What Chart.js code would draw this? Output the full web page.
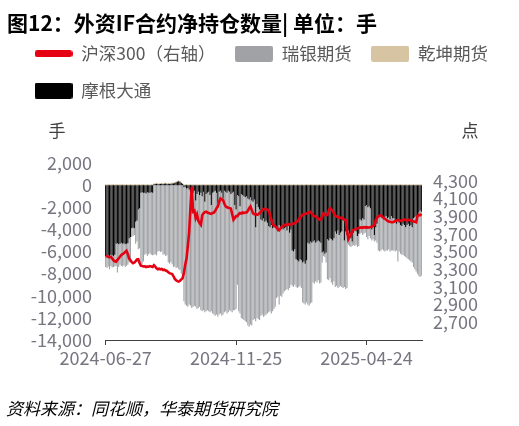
<!DOCTYPE html>
<html><head><meta charset="utf-8">
<script src="https://cdn.jsdelivr.net/npm/chart.js@4.4.1/dist/chart.umd.min.js"></script>
<style>
html,body{margin:0;padding:0;background:#fff;}
#wrap{position:relative;width:519px;height:426px;overflow:hidden;}
#c{position:absolute;left:0;top:0;}
.title{position:absolute;left:7px;top:10px;font:bold 21px/24px 'Noto Sans CJK SC',sans-serif;color:#000;white-space:nowrap;}
.src{position:absolute;left:6px;top:398px;font:italic 17px/20px 'Noto Sans CJK SC',sans-serif;color:#000;white-space:nowrap;}
</style></head>
<body><div id="wrap"><canvas id="c" width="519" height="426"></canvas>
<div class="title">图12：外资IF合约净持仓数量| 单位：手</div>
<div class="src">资料来源：同花顺，华泰期货研究院</div></div>
<script>
// ---- categories: trading days 2024-06-27 .. 2025-06-27 ----
const firstDay = '2024-06-27';
const lastDay = '2025-06-27';
const holidays = ['2024-09-16','2024-09-17','2024-10-01','2024-10-02','2024-10-03','2024-10-04','2024-10-07',
  '2025-01-01','2025-01-28','2025-01-29','2025-01-30','2025-01-31','2025-02-03','2025-02-04','2025-04-04',
  '2025-05-01','2025-05-02','2025-05-05','2025-06-02'];
const categories = [];
(function(){
  let t = Date.parse(firstDay + 'T00:00:00Z'); const end = Date.parse(lastDay + 'T00:00:00Z');
  while (t <= end) { const d = new Date(t); const w = d.getUTCDay(); const s = d.toISOString().slice(0,10);
    if (w !== 0 && w !== 6 && !holidays.includes(s)) categories.push(s); t += 86400000; }
})();
const xTickLabels = ['2024-06-27','2024-11-25','2025-04-24'];
const leftTicks = [-14000,-12000,-10000,-8000,-6000,-4000,-2000,0,2000];
const rightTicks = [2700,2900,3100,3300,3500,3700,3900,4100,4300];

// ---- series ----
const hs300 = [
3450,3445,3440,3435,3440,3420,3400,3390,3385,3405,
3423,3440,3460,3470,3480,3495,3509,3470,3420,3400,
3380,3367,3375,3390,3410,3412,3370,3340,3335,3330,
3332,3325,3330,3328,3335,3330,3325,3345,3330,3310,
3300,3305,3298,3302,3290,3295,3285,3280,3265,3255,
3250,3245,3220,3190,3175,3165,3160,3170,3185,3200,
3260,3350,3420,3560,3720,4000,4232,3950,3960,3880,
3920,3850,3820,3800,3910,3930,3945,3950,3940,3935,
3930,3925,3935,3940,3960,3990,4010,4060,4100,4090,
4080,4040,4010,4000,3995,3990,3985,3920,3860,3880,
3900,3900,3920,3935,3930,3940,3935,3940,3940,3960,
3990,4010,3970,3930,3920,3925,3915,3920,3935,3950,
3965,3980,3985,3975,3975,3960,3910,3860,3820,3790,
3785,3770,3750,3740,3760,3780,3790,3795,3805,3800,
3810,3805,3800,3815,3815,3820,3830,3840,3860,3880,
3900,3915,3920,3925,3930,3935,3945,3950,3930,3905,
3900,3895,3890,3865,3860,3860,3895,3930,3920,3910,
3915,3960,3990,3975,3960,3930,3905,3895,3890,3885,
3880,3885,3870,3860,3855,3750,3640,3670,3690,3730,
3745,3750,3755,3760,3765,3770,3772,3768,3775,3770,
3775,3770,3772,3778,3780,3790,3800,3850,3880,3895,
3905,3910,3895,3880,3870,3860,3845,3840,3835,3830,
3830,3835,3845,3850,3855,3850,3845,3850,3855,3860,
3855,3850,3860,3855,3850,3845,3840,3835,3830,3900,
3915,3910,3925];

const ubs = [
-1000,-1050,-1000,-1200,-1000,-1100,-1000,-1050,-2000,-2650,-2050,-1900,-2100,-2050,-2000,-2050,-2000,-1950,
-2200,-2200,-800,-750,-600,-2000,-1900,-3600,-3600,-6500,-6450,-6200,-5600,-5450,-5750,-5550,-5450,-5650,-5650,
-6300,-6250,-6350,-6000,-5950,-6050,-6000,-6300,-6250,-6400,-6350,-7000,-7100,-6950,-7150,-7400,-7350,-7500,-7450,-7600,-7700,-8000,-8300,
-10300,-10650,-10600,-10750,-10400,-10300,-10200,-10300,-10400,-9600,-10400,-10500,-10100,
-10600,-10400,-10700,-10000,-10600,-10600,-10800,-10600,-9600,-10900,
-11100,-11300,-11000,-10300,-11100,-11100,-11100,-10500,-11000,-10800,-10900,-11000,-10700,-10600,-10800,-10700,
-9500,-9000,-8100,-10400,-9700,-11200,-11200,-11200,-11200,-11400,-11500,-11500,-11500,-11300,-10700,-10800,-8500,-10300,-10100,-10000,
-8700,-8500,-8900,-8500,-8500,-8200,-7800,-7600,-8000,-7500,-7500,-7200,-6400,-5900,-7200,-6100,-6400,-5800,-5700,-5700,-5300,-5800,-5000,-5000,
-3200,-3200,-3200,-2500,-2500,-2300,-2400,-2500,-3600,-3800,-3700,-3800,-5600,-5600,-5600,-5400,-3700,-3900,-3500,-3700,-3600,-3800,-3600,-900,-400,-300,-900,
-3600,-3600,-3600,-3900,-4000,-3900,-5000,-4700,-5200,-4700,-4800,-5000,-6100,-4200,-5200,-4800,-1300,-1100,-800,-400,-1100,-1500,-1200,-1000,-1100,-1300,-1100,-1500,-1300,
-2400,-2900,-2900,-2700,-2700,-1000,-1300,-600,-1200,-1700,-3100,-3100,-3200,-2800,-2800,-3100,-3100,-2900,-2900,-2900,-3100,-2900,-2900,-2700,-2400,-3700,-2600,-2600,-2600,-2800,-2800,-2700,-3000,-3200,-3100,-3300,-3200,-4400,-4700,-5000,-5000,-5700,-6000,-5800];

const qiankun = [
90,85,95,90,88,92,90,86,94,90, 88,92,90,95,85,90,92,88,90,94,
90,88,86,92,90,95,90,88,92,90, 86,90,94,90,88,92,85,90,95,90,
92,88,90,86,94,90,88,92,90,95, 90,85,90,92,88,90,94,90,86,92,
90,88,95,90,92,86,90,94,88,90, 92,90,85,90,95,88,90,92,90,86,
94,90,88,92,90,95,90,85,92,88, 90,94,90,86,92,90,88,95,90,92,
86,90,94,88,90,92,90,85,95,90, 88,92,90,94,86,90,92,88,90,95,
90,86,92,90,88,94,90,92,85,90, 95,90,88,92,90,86,94,90,92,88,
90,95,86,90,92,88,90,94,90,85, 92,90,88,95,90,92,86,90,94,88,
90,92,85,90,95,88,92,90,86,94, 90,88,92,90,95,85,90,92,88,90,
94,90,86,92,90,88,95,90,92,86, 90,94,88,90,92,90,85,95,90,88,
92,90,94,86,90,92,88,90,95,90, 86,92,90,88,94,90,92,85,90,95,
90,88,92,90,86,94,90,92,88,90, 95,90,86,92,90,88,94,90,92,85,
90,95,88];

const jpm = [
-6400,-6450,-6350,-6400,-6300,-6350,-6400,-6300,-5300,-5250,-5350,-5300,-5200,-5300,-5250,-5350,-5300,-5250,
-4800,-4700,-3900,-3850,-3900,-3300,-3200,-2200,-2100,-700,-650,-700,-700,-750,-650,-700,-700,-650,-700,
80,100,120,90,100,110,130,100,120,150,100,120,100,130,150,150,200,250,300,340,300,200,100,
-200,-150,-300,-250,-400,-600,-900,-700,-500,-1400,-800,-600,-900,
-700,-1000,-600,-1500,-800,-700,-600,-900,-1800,-700,
-600,-500,-700,-1600,-600,-500,-700,-1200,-500,-600,-700,-500,-600,-800,-700,-600,
-1800,-2200,-900,-1000,-1900,-800,-900,-1000,-1100,-1000,-1200,-1300,-1100,-1400,-1500,-1300,-3800,-1700,-2000,-2200,
-3100,-3200,-3000,-3300,-3200,-3400,-3700,-3800,-3600,-3900,-3700,-3800,-3800,-4200,-3600,-3900,-3700,-4000,-3900,-3800,-4100,-3700,-4300,-4000,
-5900,-6000,-5800,-6700,-6800,-6900,-6700,-6800,-7000,-6900,-7100,-6800,-5200,-5300,-5100,-5200,-5100,-5000,-5200,-5100,-5000,-5100,-5200,-6100,-6000,-6200,-6100,
-4900,-5000,-4800,-4900,-5000,-4800,-4200,-4400,-4100,-4500,-4300,-4200,-3200,-5000,-4200,-4500,-4100,-4400,-4800,-5100,-4300,-4000,-4200,-4600,-4400,-3100,-3200,-3000,-3100,
-1900,-1800,-2000,-1900,-2100,-4000,-3600,-4500,-3800,-3500,-2800,-2900,-2700,-3000,-3100,-2900,-2800,-3000,-2900,-3100,-2800,-3000,-3000,-3300,-3500,-3200,-3400,-3600,-3700,-3500,-3600,-3800,-3600,-3500,-3700,-3600,-3800,-3000,-2900,-2800,-3000,-2500,-2300,-2400];

// ---- styling ----
const FONT = "'Noto Sans CJK SC', sans-serif";
const RED = '#e50012', GRAY = '#a0a2a5', TAN = '#d6c4a2', BLACK = '#000000';
const TICK_COLOR = '#767680';
Chart.defaults.font.family = FONT;
const fmt = v => new Intl.NumberFormat('en-US').format(v);

function swatch(color, w, h, r) {
  const c = document.createElement('canvas'); c.width = w; c.height = h;
  const g = c.getContext('2d'); g.fillStyle = color; g.beginPath();
  if (g.roundRect) g.roundRect(0, 0, w, h, r); else g.rect(0, 0, w, h);
  g.fill(); return c;
}
const legendSwatches = [swatch(RED, 38, 7, 3), swatch(GRAY, 38, 16, 2), swatch(TAN, 38, 16, 2), swatch(BLACK, 38, 16, 2)];

const unitsBox = {
  id: 'unitsBox',
  beforeInit(chart) {
    const box = {
      position: 'top', weight: 100, fullSize: true, options: {},
      left: 0, top: 0, right: 0, bottom: 0, width: 0, height: 0,
      isHorizontal() { return true; },
      update(maxWidth) { this.width = maxWidth; this.height = 53.5; },
      draw() {
        const ctx = chart.ctx, a = chart.chartArea;
        ctx.save(); ctx.font = "17px " + FONT; ctx.fillStyle = '#404040';
        ctx.textAlign = 'center'; ctx.textBaseline = 'middle';
        ctx.fillText('手', a.left - 48, a.top - 32);
        ctx.fillText('点', a.right + 48, a.top - 32);
        ctx.restore();
      }
    };
    Chart.layouts.addBox(chart, box);
  }
};

new Chart(document.getElementById('c'), {
  data: {
    labels: categories,
    datasets: [
      {type: 'line', label: '沪深300（右轴）', data: hs300, yAxisID: 'y1', borderColor: RED, backgroundColor: RED,
       borderWidth: 2.6, pointRadius: 0, tension: 0, order: 0},
      {type: 'bar', label: '瑞银期货', data: ubs, yAxisID: 'y', backgroundColor: GRAY, order: 3,
       barPercentage: 0.85, categoryPercentage: 1},
      {type: 'bar', label: '乾坤期货', data: qiankun, yAxisID: 'y', backgroundColor: TAN, order: 2,
       barPercentage: 0.85, categoryPercentage: 1},
      {type: 'bar', label: '摩根大通', data: jpm, yAxisID: 'y', backgroundColor: BLACK, order: 1,
       barPercentage: 0.85, categoryPercentage: 1}
    ]
  },
  options: {
    responsive: false, animation: false,
    layout: {padding: {top: 25.5, left: 15, right: 0, bottom: 56}},
    plugins: {
      title: {display: false},
      tooltip: {enabled: false},
      legend: {
        position: 'top', align: 'start',
        labels: {
          usePointStyle: true, pointStyleWidth: 38, padding: 19.5, color: '#595959',
          font: {size: 17.5, family: FONT},
          sort: (a, b) => a.datasetIndex - b.datasetIndex,
          generateLabels(chart) {
            const items = Chart.defaults.plugins.legend.labels.generateLabels(chart);
            items.forEach(it => { it.pointStyle = legendSwatches[it.datasetIndex]; });
            return items;
          }
        }
      }
    },
    scales: {
      x: {
        type: 'category', stacked: true, offset: true,
        ticks: {
          autoSkip: false, maxRotation: 0, minRotation: 0, padding: 2, color: TICK_COLOR,
          font: {size: 18},
          callback: function(value, index) { const l = categories[index]; return xTickLabels.includes(l) ? l : null; }
        },
        grid: {drawOnChartArea: false, drawTicks: true, tickLength: 5, color: '#404040', offset: false},
        border: {display: true, color: '#404040', width: 1},
        afterFit(s) { s.height = 30; }
      },
      y: {
        type: 'linear', position: 'left', stacked: true,
        min: leftTicks[0], max: leftTicks[leftTicks.length - 1],
        ticks: {stepSize: leftTicks[1] - leftTicks[0], autoSkip: false, color: TICK_COLOR, font: {size: 18}, padding: 13,
                callback: v => leftTicks.includes(v) ? fmt(v) : null},
        grid: {display: false, drawTicks: false},
        border: {display: false},
        afterFit(s) { s.width = 90; }
      },
      y1: {
        type: 'linear', position: 'right', stacked: false,
        min: rightTicks[0] - 200, max: rightTicks[rightTicks.length - 1] + 200,
        ticks: {stepSize: 200, autoSkip: false, color: TICK_COLOR, font: {size: 18}, padding: 11,
                callback: v => rightTicks.includes(v) ? fmt(v) : null},
        grid: {display: false, drawTicks: false},
        border: {display: false},
        afterFit(s) { s.width = 97; }
      }
    }
  },
  plugins: [unitsBox]
});
</script>
</body></html>
